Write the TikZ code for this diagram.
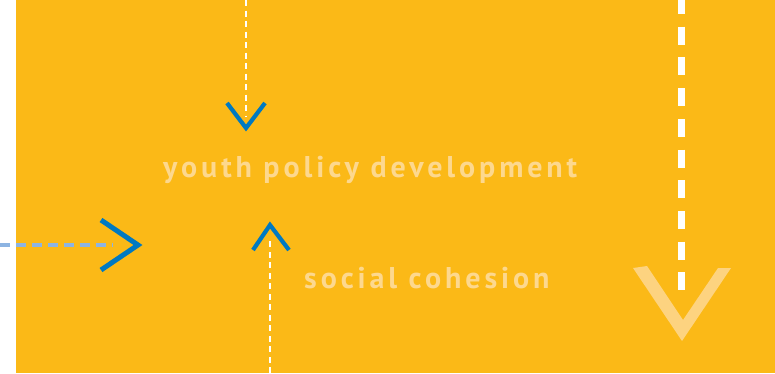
\documentclass[tikz,border=0pt]{standalone}
\usepackage{fontspec}
\setmainfont{PT Sans}
\newfontfamily\labelfont[LetterSpace=13]{PT Sans Bold}
\definecolor{bgorange}{RGB}{251,185,23}
\definecolor{cream}{RGB}{253,216,142}
\definecolor{creamchev}{RGB}{253,211,128}
\definecolor{arrowblue}{RGB}{0,121,193}
\definecolor{lightblue}{RGB}{141,180,226}
\tikzset{
  labeltext/.style={text=cream, font=\labelfont\fontsize{30}{33}\selectfont, inner sep=0pt},
  thindash/.style={draw=white, line width=2pt, dash pattern=on 6pt off 4.5pt},
  bluedash/.style={draw=lightblue, line width=3.5pt, dash pattern=on 10pt off 6pt},
  bigdash/.style={draw=white, line width=6.5pt, dash pattern=on 18pt off 12.7pt, dash phase=4pt},
  bluechev/.style={draw=arrowblue, line width=4pt, miter limit=10},
  bigchev/.style={fill=creamchev, draw=none}
}
\begin{document}
\begin{tikzpicture}[x=1pt,y=-1pt]
\useasboundingbox (0,0) rectangle (775,373);
\fill[white] (0,0) rectangle (775,373);
\fill[bgorange] (16,0) rectangle (775,373);

% text labels
\node[labeltext, anchor=base west] (ypd) at (163,177) {youth policy development};
\node[labeltext, anchor=base west] (sc) at (304,288) {social cohesion};

% top arrow
\coordinate (topstart) at (246,0);
\coordinate (topend) at (246,116);
\draw[thindash] (topstart) -- (topend);
\draw[bluechev, line width=4.2pt] (227,103) -- (246,128) -- (265,103);

% left arrow
\coordinate (leftstart) at (0,245);
\coordinate (leftend) at (113,245);
\draw[bluedash] (leftstart) -- (leftend);
\draw[bluechev, line width=5pt] (101,220) -- (138,245) -- (101,270);

% bottom arrow
\coordinate (botstart) at (270,373);
\coordinate (botend) at (270,241);
\draw[thindash] (botstart) -- (botend);
\draw[bluechev, line width=4.2pt] (253,250) -- (270,225) -- (289,250);

% right big arrow
\coordinate (rstart) at (681.5,0);
\coordinate (rend) at (681.5,291);
\draw[bigdash] (rstart) -- (rend);
\fill[bigchev] (633,268) -- (647,266) -- (683,320) -- (718,268) -- (731,268) -- (682,341) -- cycle;
\end{tikzpicture}
\end{document}
